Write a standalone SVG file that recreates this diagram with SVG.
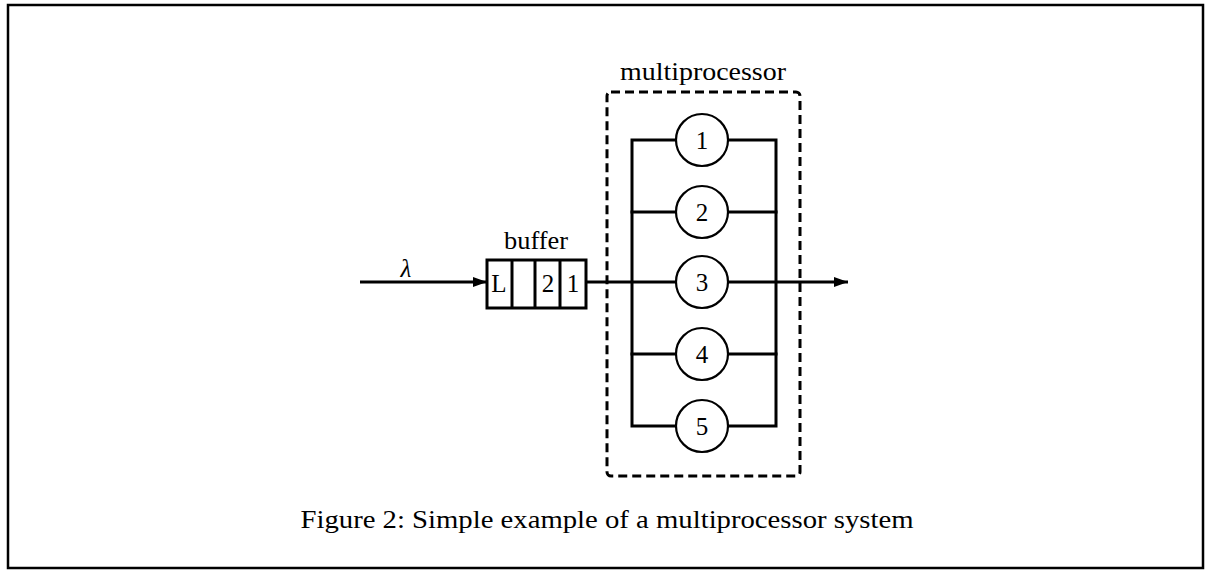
<svg xmlns="http://www.w3.org/2000/svg" width="1207" height="571" viewBox="0 0 1207 571">
<defs>
<style>
.ln{stroke:#000;stroke-width:3;fill:none}
.bus{stroke:#000;stroke-width:3;fill:none;stroke-linecap:square}
.cir{stroke:#000;stroke-width:2.2;fill:#fff}
.t{font-family:"Liberation Serif","Times New Roman",serif;font-size:25px;fill:#000}
.c{text-anchor:middle}
</style>
<marker id="arr" viewBox="0 0 14 10" refX="14" refY="5" markerWidth="14" markerHeight="10" markerUnits="userSpaceOnUse" orient="auto">
<path d="M0,0 L14,5 L0,10 z" fill="#000"/>
</marker>
</defs>
<rect x="8" y="5" width="1195" height="563" fill="#fff" stroke="#000" stroke-width="2.5"/>
<g id="connectors">
<line class="ln" x1="360" y1="282" x2="487" y2="282" marker-end="url(#arr)"/>
<line class="ln" x1="586" y1="282" x2="848" y2="282" marker-end="url(#arr)"/>
<path class="bus" d="M676,140 H632 V426 H676 M728,140 H776 V426 H728"/>
<path class="bus" d="M632,212 H676 M728,212 H776 M632,354 H676 M728,354 H776" stroke-width="3.6"/>
</g>
<g id="multiprocessor">
<rect x="607" y="92" width="193" height="384" rx="4" fill="none" stroke="#000" stroke-width="3" stroke-dasharray="9,5"/>
<text class="t c" x="703" y="80" textLength="166" lengthAdjust="spacingAndGlyphs">multiprocessor</text>
</g>
<g id="buffer">
<rect x="487" y="260" width="99" height="48" fill="#fff" stroke="#000" stroke-width="3"/>
<line class="ln" x1="512" y1="260" x2="512" y2="308"/>
<line class="ln" x1="535" y1="260" x2="535" y2="308"/>
<line class="ln" x1="560" y1="260" x2="560" y2="308"/>
<text class="t c" x="536" y="249" textLength="64" lengthAdjust="spacingAndGlyphs">buffer</text>
<text class="t c" x="499" y="292">L</text>
<text class="t c" x="548" y="292">2</text>
<text class="t c" x="573" y="292">1</text>
</g>
<g id="lambda">
<text class="t c" x="406" y="277" font-style="italic">λ</text>
</g>
<g id="p1"><circle class="cir" cx="702" cy="140" r="26"/><text class="t c" x="702" y="149">1</text></g>
<g id="p2"><circle class="cir" cx="702" cy="212" r="26"/><text class="t c" x="702" y="221">2</text></g>
<g id="p3"><circle class="cir" cx="702" cy="282" r="26"/><text class="t c" x="702" y="291">3</text></g>
<g id="p4"><circle class="cir" cx="702" cy="354" r="26"/><text class="t c" x="702" y="363">4</text></g>
<g id="p5"><circle class="cir" cx="702" cy="426" r="26"/><text class="t c" x="702" y="435">5</text></g>
<g id="caption">
<text class="t c" x="607" y="528" textLength="613" lengthAdjust="spacingAndGlyphs">Figure 2: Simple example of a multiprocessor system</text>
</g>
</svg>
